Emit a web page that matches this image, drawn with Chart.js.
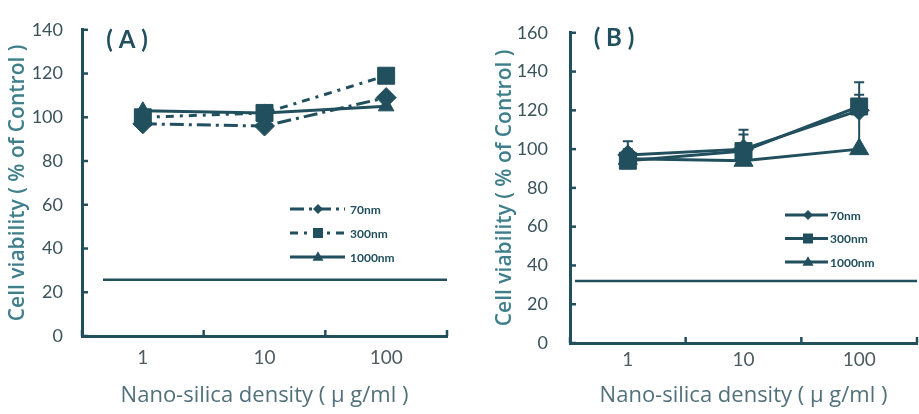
<!DOCTYPE html>
<html>
<head>
<meta charset="utf-8">
<script src="https://cdn.jsdelivr.net/npm/chart.js@4.4.1/dist/chart.umd.min.js"></script>
<style>
  html, body { margin: 0; padding: 0; background: #fff; overflow: hidden; width: 919px; height: 414px; }
  .panel { position: absolute; top: 0; height: 414px; }
  #wrapA { left: 0; width: 460px; }
  #wrapB { left: 460px; width: 470px; }
</style>
</head>
<body>
<div class="panel" id="wrapA"><canvas id="chartA" width="460" height="414"></canvas></div>
<div class="panel" id="wrapB"><canvas id="chartB" width="470" height="414"></canvas></div>
<script>
// ---- data ----
const densities = ['1', '10', '100'];
const seriesNames = ['70nm', '300nm', '1000nm'];

// Panel A: cell viability (% of control)
const viabilityA70 = [97, 96, 109];
const viabilityA300 = [100, 102, 119];
const viabilityA1000 = [103, 102, 105];
const yTicksA = [0, 20, 40, 60, 80, 100, 120, 140];
const baselineA = 25.7;

// Panel B: cell viability (% of control) with upper error bars
const viabilityB70 = [97, 100, 120];
const viabilityB300 = [94, 99, 122];
const viabilityB1000 = [95, 94, 100];
const errorB70 = [3, 7.5, 8];
const errorB300 = [10, 11, 12.5];
const errorB1000 = [3, 4, 18];
const yTicksB = [0, 20, 40, 60, 80, 100, 120, 140, 160];
const baselineB = 32;

const panelLabels = ['( A )', '( B )'];
const yTitle = 'Cell viability ( % of Control )';
const xTitle = 'Nano-silica density ( \u03bc g/ml )';

// ---- styling ----
const INK = '#214f5e';
const FONT = 'Lato, "Open Sans", sans-serif';
const TITLE_FONT = '"Open Sans", Lato, sans-serif';

function markerPath(ctx, style, x, y, s) {
  ctx.beginPath();
  if (style === 'rectRot') {
    ctx.moveTo(x, y - s); ctx.lineTo(x + s, y); ctx.lineTo(x, y + s); ctx.lineTo(x - s, y);
  } else if (style === 'rect') {
    ctx.rect(x - s, y - s, 2 * s, 2 * s);
  } else {
    ctx.moveTo(x, y - s * 1.15); ctx.lineTo(x + s * 1.1, y + s * 0.75); ctx.lineTo(x - s * 1.1, y + s * 0.75);
  }
  ctx.closePath();
  ctx.fill();
}

// Inward tick marks, the horizontal rule, error bars, legend and panel letter
const decorations = {
  id: 'decorations',
  beforeDatasetsDraw(chart) {
    const ctx = chart.ctx;
    const y = chart.scales.y;
    ctx.save();
    ctx.strokeStyle = INK;
    ctx.lineWidth = 2;
    chart.data.datasets.forEach((ds) => {
      if (!ds.errors) return;
      ds.data.forEach((v, i) => {
        const e = ds.errors[i];
        if (!e) return;
        const px = chart.scales.x.getPixelForValue(i);
        const top = y.getPixelForValue(v + e);
        const base = y.getPixelForValue(v);
        ctx.beginPath();
        ctx.moveTo(px, base); ctx.lineTo(px, top);
        ctx.moveTo(px - 5, top); ctx.lineTo(px + 5, top);
        ctx.stroke();
      });
    });
    ctx.restore();
  },
  afterDraw(chart, args, opts) {
    const ctx = chart.ctx;
    const area = chart.chartArea;
    const xs = chart.scales.x, ys = chart.scales.y;
    ctx.save();
    ctx.strokeStyle = INK;
    ctx.fillStyle = INK;
    ctx.lineWidth = 2.5;
    // y ticks pointing into the plot
    ys.ticks.forEach((t) => {
      const py = ys.getPixelForValue(t.value);
      ctx.beginPath(); ctx.moveTo(area.left, py); ctx.lineTo(area.left + 6, py); ctx.stroke();
    });
    // x ticks between categories, pointing up
    const n = chart.data.labels.length;
    for (let i = 0; i <= n; i++) {
      const px = xs.getPixelForValue(i - 0.5);
      ctx.beginPath(); ctx.moveTo(px, area.bottom); ctx.lineTo(px, area.bottom - 6); ctx.stroke();
    }
    // horizontal rule
    const ry = ys.getPixelForValue(opts.baseline);
    ctx.beginPath(); ctx.moveTo(area.left + opts.baselineIndent, ry); ctx.lineTo(area.right, ry); ctx.stroke();

    // legend
    const lg = opts.legend;
    ctx.font = 'bold 12px ' + FONT;
    ctx.textBaseline = 'middle';
    ctx.textAlign = 'left';
    chart.data.datasets.forEach((ds, i) => {
      const ly = lg.top + i * lg.rowGap;
      ctx.lineWidth = 3;
      ctx.setLineDash(ds.borderDash || []);
      ctx.beginPath(); ctx.moveTo(lg.x0, ly); ctx.lineTo(lg.x1, ly); ctx.stroke();
      ctx.setLineDash([]);
      markerPath(ctx, ds.pointStyle, lg.marker, ly, 5);
      ctx.fillText(ds.label, lg.text, ly + 1);
    });

    // panel letter
    ctx.font = 'bold 24px ' + FONT;
    ctx.textAlign = 'center';
    ctx.fillText(opts.letter, opts.letterX, opts.letterY);
    ctx.restore();
  }
};

function series(name, data, dash, style, radius, errors) {
  return {
    label: name,
    data: data,
    errors: errors,
    borderColor: INK,
    backgroundColor: INK,
    borderWidth: 3,
    borderDash: dash,
    pointStyle: style,
    pointRadius: radius,
    pointBackgroundColor: INK,
    pointBorderColor: INK,
    pointBorderWidth: 1,
    tension: 0,
    clip: false
  };
}

function buildChart(id, cfg) {
  return new Chart(document.getElementById(id), {
    type: 'line',
    data: { labels: densities, datasets: cfg.datasets },
    plugins: [decorations],
    options: {
      responsive: false,
      animation: false,
      devicePixelRatio: 1,
      layout: { padding: { top: cfg.padTop, right: cfg.padRight, left: 0, bottom: 0 } },
      plugins: {
        legend: { display: false },
        tooltip: { enabled: false },
        decorations: cfg.deco
      },
      scales: {
        x: {
          type: 'category',
          offset: true,
          grid: { display: true, drawOnChartArea: false, drawTicks: false, offset: true },
          border: { display: true, color: INK, width: 3 },
          ticks: { color: '#4f5c61', padding: cfg.xTickPad, font: { family: FONT, size: 19 } },
          title: {
            display: true, text: xTitle, color: '#52717a',
            font: { family: TITLE_FONT, size: 22, weight: 'normal' },
            padding: { top: 0, bottom: 5 }
          },
          afterFit(scale) { scale.height = cfg.xHeight; }
        },
        y: {
          min: cfg.yTicks[0],
          max: cfg.yTicks[cfg.yTicks.length - 1],
          grid: { display: true, drawOnChartArea: false, drawTicks: false },
          border: { display: true, color: INK, width: 3 },
          ticks: { stepSize: cfg.yTicks[1] - cfg.yTicks[0], color: '#3a535c', padding: cfg.yTickPad, font: { family: FONT, size: 18 } },
          title: {
            display: true, text: yTitle, color: '#3f7f8b',
            font: { family: TITLE_FONT, size: 21, weight: '600' },
            padding: { top: cfg.yTitlePad, bottom: 0 }
          },
          afterFit(scale) { scale.width = cfg.yWidth; }
        }
      }
    }
  });
}

buildChart('chartA', {
  datasets: [
    series(seriesNames[0], viabilityA70, [14, 5, 3, 5], 'rectRot', 10),
    series(seriesNames[1], viabilityA300, [8, 6, 3, 6], 'rect', 12),
    series(seriesNames[2], viabilityA1000, [], 'triangle', 9)
  ],
  yTicks: yTicksA,
  padTop: 21, padRight: 8, yWidth: 82, xHeight: 78,
  xTickPad: 10, yTickPad: 19, yTitlePad: 5,
  deco: {
    baseline: baselineA, baselineIndent: 21,
    legend: { x0: 290, x1: 345, marker: 318, text: 350, top: 209, rowGap: 24 },
    letter: panelLabels[0], letterX: 127, letterY: 40
  }
});

buildChart('chartB', {
  datasets: [
    series(seriesNames[0], viabilityB70, [], 'rectRot', 10, errorB70),
    series(seriesNames[1], viabilityB300, [], 'rect', 12, errorB300),
    series(seriesNames[2], viabilityB1000, [], 'triangle', 11, errorB1000)
  ],
  yTicks: yTicksB,
  padTop: 23, padRight: 7, yWidth: 110, xHeight: 71,
  xTickPad: 5, yTickPad: 22, yTitlePad: 32,
  deco: {
    baseline: baselineB, baselineIndent: 5,
    legend: { x0: 325, x1: 368, marker: 348, text: 370, top: 215, rowGap: 23.5 },
    letter: panelLabels[1], letterX: 154, letterY: 38
  }
});
</script>
</body>
</html>
